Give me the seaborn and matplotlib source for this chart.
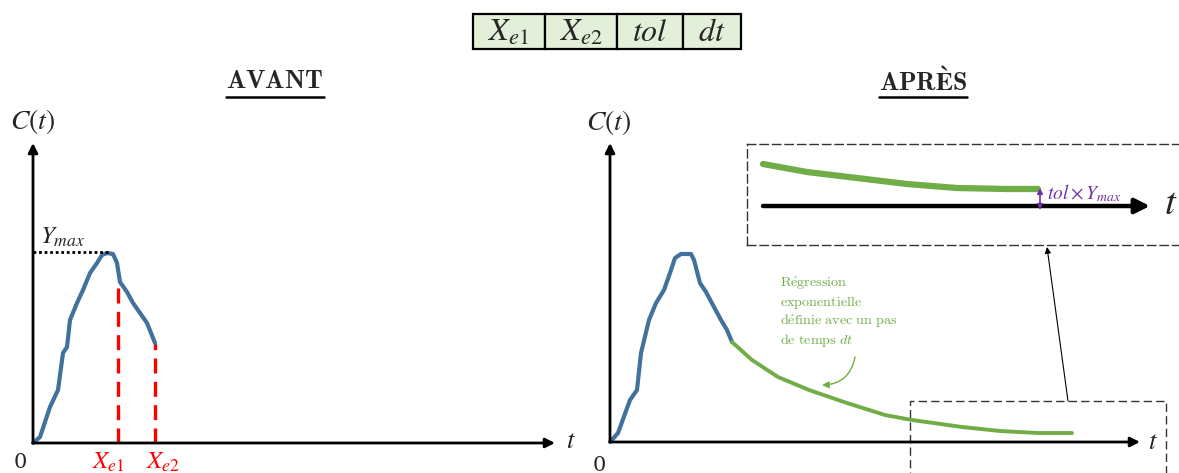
import matplotlib
matplotlib.use("Agg")
import matplotlib.pyplot as plt
import seaborn as sns
import numpy as np
from matplotlib.patches import Rectangle

sns.set_theme(style="white")
plt.rcParams['font.family'] = ['DejaVu Serif', 'DejaVu Sans']
plt.rcParams['mathtext.fontset'] = 'stix'

# ---------------- data (arbitrary units: time t, concentration C) ----------------
table_labels = [r"$X_{e1}$", r"$X_{e2}$", r"$tol$", r"$dt$"]

before_t = [0.0, 0.7, 1.7, 2.5, 3.0, 3.4, 3.7, 4.4, 5.0, 5.7, 6.4, 6.9, 7.4, 8.0, 8.4, 8.7, 9.4, 10.0, 10.7, 11.4, 12.2]
before_c = [0.0, 0.6, 3.6, 5.3, 9.0, 9.6, 12.3, 14.0, 15.3, 17.0, 18.0, 18.8, 19.0, 18.9, 18.0, 16.1, 15.1, 14.0, 13.0, 12.0, 10.0]
y_max = 19.1
xe1_t, xe1_c = 8.5, 16.3
xe2_t, xe2_c = 12.2, 10.0

after_t = [0.0, 0.8, 2.0, 2.7, 3.1, 3.9, 4.6, 5.4, 6.0, 6.5, 7.1, 8.1, 8.4, 9.0, 9.6, 10.4, 11.1, 11.7, 12.2]
after_c = [0.0, 0.9, 4.2, 5.2, 8.9, 12.2, 13.9, 15.2, 16.9, 18.4, 18.8, 18.8, 18.2, 15.9, 15.0, 13.5, 12.2, 11.2, 10.0]

reg_t = [12.2, 14.2, 16.8, 19.9, 23.7, 27.5, 30.2, 35.2, 39.0, 42.8, 46.2]
reg_c = [10.0, 8.2, 6.5, 5.2, 3.9, 2.7, 2.2, 1.5, 1.1, 0.9, 0.9]

zoom_t = [1.6, 6.0, 11.0, 16.0, 21.0, 26.0, 29.1]
zoom_c = [8.1, 7.3, 6.7, 6.1, 5.7, 5.6, 5.6]
zoom_axis_c = 3.9

BLUE = "#41719C"
GREEN = "#70AD47"
RED = "#FF0000"
PURPLE = "#7030A0"

W, H = 1179, 473
fig = plt.figure(figsize=(W / 100, H / 100), dpi=100)


def fpos(x0, y0, x1, y1):
    """pixel box -> figure fraction rect"""
    return [x0 / W, 1 - y1 / H, (x1 - x0) / W, (y1 - y0) / H]


def axis_arrow(ax, start, end, lw=2.0, ms=14):
    ax.annotate("", xy=end, xytext=start,
                arrowprops=dict(arrowstyle="-|>", lw=lw, color="black",
                                mutation_scale=ms, shrinkA=0, shrinkB=0))


# ---------------- header table ----------------
tax = fig.add_axes(fpos(473, 14, 741, 49))
tax.set_axis_off()
cell_w = [72, 72, 66, 58]
edges = np.concatenate([[0], np.cumsum(cell_w)])
tax.set_xlim(0, edges[-1])
tax.set_ylim(0, 1)
for i, lab in enumerate(table_labels):
    tax.add_patch(Rectangle((edges[i], 0), cell_w[i], 1, facecolor="#E2EFD9",
                            edgecolor="black", lw=1.6, clip_on=False))
    tax.text((edges[i] + edges[i + 1]) / 2, 0.47, lab, ha="center", va="center",
             fontsize=23)

# ---------------- titles ----------------
for label, xc in [(r"$\mathbf{AVANT}$", 275), (r"$\mathbf{APRÈS}$", 923)]:
    fig.text(xc / W, 1 - 81 / H, label, ha="center", va="center",
             fontsize=18.5, math_fontfamily="cm")
fig.canvas.draw()
for t in fig.texts:
    bb = t.get_window_extent()
    y = 1 - 97 / H
    fig.add_artist(plt.Line2D([bb.x0 / W, bb.x1 / W], [y, y], color="black", lw=1.8,
                              transform=fig.transFigure))

# ---------------- left chart (AVANT) ----------------
axL = fig.add_axes(fpos(0, 100, 580, 473))
axL.set_axis_off()
axL.set_xlim(-3.3, 54.7)
axL.set_ylim(-3.0, 34.3)
axis_arrow(axL, (0, 0), (0, 30.0))
axis_arrow(axL, (0, 0), (52.2, 0))
sns.lineplot(x=before_t, y=before_c, ax=axL, color=BLUE, linewidth=3.0,
             sort=False, estimator=None)
axL.plot([0, 7.6], [y_max, y_max], color="black", lw=2.0, ls=(0, (1, 1)))
for xt, xc in [(xe1_t, xe1_c), (xe2_t, xe2_c)]:
    axL.plot([xt, xt], [0, xc], color=RED, lw=2.4, ls=(0, (4.5, 2.5)), zorder=1)
axL.text(0, 32.1, r"$C(t)$", ha="center", va="center", fontsize=20)
axL.text(3.0, 20.6, r"$Y_{max}$", ha="center", va="center", fontsize=18)
axL.text(-1.3, -1.9, "0", ha="center", va="center", fontsize=15, family="DejaVu Serif")
axL.text(53.8, 0.3, r"$t$", ha="center", va="center", fontsize=19)
axL.text(7.5, -1.9, r"$X_{e1}$", ha="center", va="center", fontsize=18, color=RED)
axL.text(13.0, -1.9, r"$X_{e2}$", ha="center", va="center", fontsize=18, color=RED)

# ---------------- right chart (APRÈS) ----------------
axR = fig.add_axes(fpos(580, 100, 1179, 473))
axR.set_axis_off()
axR.set_xlim(-3.0, 56.9)
axR.set_ylim(-3.1, 34.2)
axis_arrow(axR, (0, 0), (0, 29.9))
axis_arrow(axR, (0, 0), (53.0, 0))
sns.lineplot(x=after_t, y=after_c, ax=axR, color=BLUE, linewidth=3.0,
             sort=False, estimator=None)
sns.lineplot(x=reg_t, y=reg_c, ax=axR, color=GREEN, linewidth=2.8,
             sort=False, estimator=None)
axR.text(-0.1, 32.0, r"$C(t)$", ha="center", va="center", fontsize=20)
axR.text(-1.1, -2.3, "0", ha="center", va="center", fontsize=15, family="DejaVu Serif")
axR.text(54.3, 0.1, r"$t$", ha="center", va="center", fontsize=19)

note = ("$\\mathrm{R\\acute{e}gression}$\n"
        "$\\mathrm{exponentielle}$\n"
        "$\\mathrm{d\\acute{e}finie\\ avec\\ un\\ pas}$\n"
        "$\\mathrm{de\\ temps}\\ dt$")
axR.text(17.0, 16.7, note, ha="left", va="top", fontsize=10.2, color=GREEN,
         math_fontfamily="cm", linespacing=1.15)
axR.annotate("", xy=(21.2, 5.7), xytext=(24.5, 8.5),
             arrowprops=dict(arrowstyle="-|>", color=GREEN, lw=1.0, mutation_scale=10,
                             connectionstyle="arc3,rad=-0.4", shrinkA=0, shrinkB=0))

axR.add_patch(Rectangle((30.0, -4.0), 25.6, 8.1, fill=False, edgecolor="#333333",
                        lw=1.0, ls=(0, (6, 3)), clip_on=True))
axR.annotate("", xy=(43.7, 19.5), xytext=(45.8, 4.1),
             arrowprops=dict(arrowstyle="-|>", color="black", lw=0.8, mutation_scale=9,
                             shrinkA=0, shrinkB=0))

# ---------------- zoom inset ----------------
axI = fig.add_axes(fpos(747, 144, 1240, 245))
axI.set_xlim(0, 49.3)
axI.set_ylim(0, 10.1)
axI.set_xticks([])
axI.set_yticks([])
axI.set_facecolor("white")
for s in axI.spines.values():
    s.set_linestyle((0, (6, 3)))
    s.set_edgecolor("#333333")
    s.set_linewidth(1.0)
sns.lineplot(x=zoom_t, y=zoom_c, ax=axI, color=GREEN, linewidth=4.5,
             sort=False, estimator=None)
axI.annotate("", xy=(40.3, zoom_axis_c), xytext=(1.6, zoom_axis_c),
             arrowprops=dict(arrowstyle="-|>", lw=3.2, color="black",
                             mutation_scale=22, shrinkA=0, shrinkB=0))
axI.text(41.7, 4.1, r"$t$", ha="left", va="center", fontsize=28)
axI.annotate("", xy=(29.3, zoom_c[-1] + 0.1), xytext=(29.3, zoom_axis_c - 0.4),
             arrowprops=dict(arrowstyle="<|-|>", lw=1.2, color=PURPLE,
                             mutation_scale=8, shrinkA=0, shrinkB=0))
axI.text(30.0, 5.2, r"$tol \times Y_{max}$", ha="left", va="center", fontsize=14,
         color=PURPLE)

fig.savefig("out.png", dpi=100)
